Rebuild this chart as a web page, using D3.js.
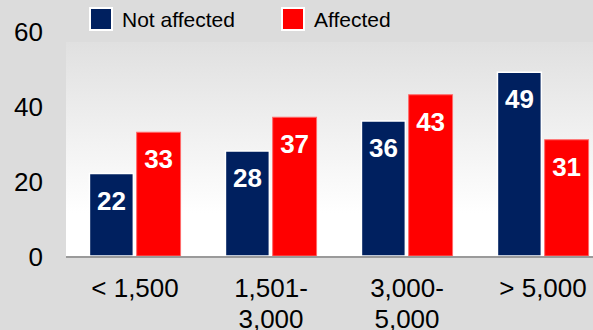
<!DOCTYPE html>
<html>
<head>
<meta charset="utf-8">
<script src="https://cdn.jsdelivr.net/npm/d3@7"></script>
<style>
  html, body { margin: 0; padding: 0; background: #dcdcdc; }
  svg { display: block; font-family: Arial, "Liberation Sans", sans-serif; }
</style>
</head>
<body>
<svg id="chart" width="593" height="330"></svg>
<script>
// Income bands (two-line labels) and the share in each group
const categories = ["< 1,500", "1,501-\n3,000", "3,000-\n5,000", "> 5,000"];
const seriesNames = ["Not affected", "Affected"];
const notAffected = [22, 28, 36, 49];
const affected = [33, 37, 43, 31];
const yTicks = [0, 20, 40, 60];
const colors = ["#00205f", "#ff0000"];
const strokes = ["#ffffff", "#ff6a6a"];

const svg = d3.select("#chart");
const W = 593, H = 330;
const plot = { left: 66, right: 593, top: 42, bottom: 256 };

const rows = categories.map((c, i) => ({ cat: c, vals: [notAffected[i], affected[i]] }));

const x0 = d3.scaleBand().domain(categories).range([67, 611])
  .paddingInner(0.33).paddingOuter(0.165);
const x1 = d3.scaleBand().domain(seriesNames).range([0, x0.bandwidth()]).paddingInner(0.07);
const y = d3.scaleLinear().domain([0, 60]).range([plot.bottom, 31]);

// plot-area background: light grey fading to white at the baseline
const defs = svg.append("defs");
const grad = defs.append("linearGradient").attr("id", "bg").attr("x1", 0).attr("y1", 0).attr("x2", 0).attr("y2", 1);
grad.append("stop").attr("offset", "0%").attr("stop-color", "#e0e0e0");
grad.append("stop").attr("offset", "80%").attr("stop-color", "#ffffff");
grad.append("stop").attr("offset", "100%").attr("stop-color", "#ffffff");

svg.append("rect").attr("x", plot.left).attr("y", plot.top)
  .attr("width", plot.right - plot.left).attr("height", plot.bottom - plot.top)
  .attr("fill", "url(#bg)");

// bars
const groups = svg.append("g").selectAll("g").data(rows).join("g")
  .attr("transform", d => `translate(${x0(d.cat)},0)`);

groups.selectAll("rect").data(d => d.vals.map((v, k) => ({ v, k }))).join("rect")
  .attr("x", d => x1(seriesNames[d.k]))
  .attr("y", d => y(d.v))
  .attr("width", x1.bandwidth())
  .attr("height", d => y(0) - y(d.v))
  .attr("fill", d => colors[d.k])
  .attr("stroke", d => strokes[d.k])
  .attr("stroke-width", d => d.k === 0 ? 1.5 : 1);

// value labels inside bars
groups.selectAll("text.val").data(d => d.vals.map((v, k) => ({ v, k }))).join("text")
  .attr("class", "val")
  .attr("x", d => x1(seriesNames[d.k]) + x1.bandwidth() / 2)
  .attr("y", d => y(d.v) + 36)
  .attr("text-anchor", "middle")
  .attr("fill", "#ffffff")
  .attr("font-weight", "bold")
  .attr("font-size", 26)
  .text(d => d.v);

// baseline
svg.append("line").attr("x1", plot.left).attr("x2", plot.right)
  .attr("y1", plot.bottom + 1).attr("y2", plot.bottom + 1)
  .attr("stroke", "#9a9a9a").attr("stroke-width", 2);

// y axis labels
const yAxis = d3.axisLeft(y).tickValues(yTicks).tickSize(0).tickPadding(0);
const yg = svg.append("g").attr("transform", "translate(43,0)").call(yAxis);
yg.select(".domain").remove();
yg.selectAll("text").attr("font-size", 26).attr("font-family", "Arial, 'Liberation Sans', sans-serif")
  .attr("fill", "#000").attr("dy", "0.36em");

// category labels (may wrap onto two lines)
const xAxis = d3.axisBottom(x0).tickSize(0).tickPadding(0).tickFormat(() => "");
const xg = svg.append("g").attr("transform", `translate(0,${plot.bottom})`).call(xAxis);
xg.select(".domain").remove();
xg.selectAll(".tick text").each(function(d) {
  const t = d3.select(this).attr("y", 0).attr("dy", null)
    .attr("font-size", 26).attr("font-family", "Arial, 'Liberation Sans', sans-serif").attr("fill", "#000");
  d.split("\n").forEach((line, i) => {
    t.append("tspan").attr("x", 0).attr("y", 41 + i * 31).text(line);
  });
});

// legend
const legend = svg.append("g");
const legendX = [90, 282];
seriesNames.forEach((name, k) => {
  legend.append("rect").attr("x", legendX[k]).attr("y", 8).attr("width", 22).attr("height", 22)
    .attr("fill", colors[k]).attr("stroke", "#ffffff").attr("stroke-width", 2);
  legend.append("text").attr("x", legendX[k] + 32).attr("y", 27)
    .attr("font-size", 21).attr("fill", "#000").text(name);
});
</script>
</body>
</html>
